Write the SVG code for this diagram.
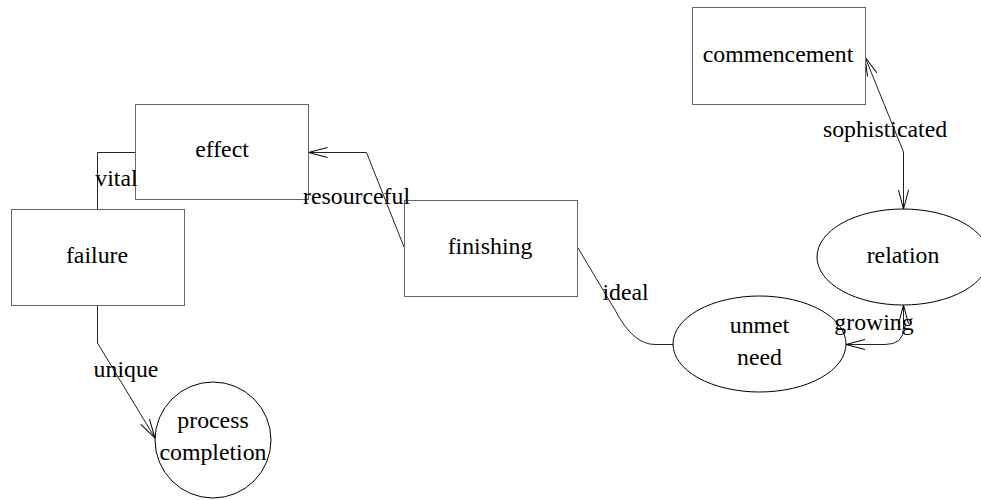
<svg xmlns="http://www.w3.org/2000/svg" width="981" height="500" viewBox="0 0 981 500">
<defs>
<style>
.node rect { fill: #fff; stroke: #666; stroke-width: 1; }
.node ellipse, .node circle { fill: #fff; stroke: #000; stroke-width: 1; }
.edges path { fill: none; stroke: #222; stroke-width: 1; }
text { font-family: 'Liberation Serif', 'DejaVu Serif', serif; font-size: 23.8px; fill: #000; }
.c { text-anchor: middle; }
</style>
<marker id="arr" markerUnits="userSpaceOnUse" markerWidth="22" markerHeight="14" refX="19" refY="6" orient="auto-start-reverse" overflow="visible">
<path d="M0,1 L19,6 L0,11" fill="none" stroke="#000" stroke-width="1"/>
</marker>
</defs>
<rect width="981" height="500" fill="#fff"/>
<g class="edges" id="connectors">
<path id="e-vital" d="M97.5,209 V152.5 H135"/>
<path id="e-resourceful" d="M404,247 L366.5,152.5 H308.5" marker-end="url(#arr)"/>
<path id="e-unique" d="M97.5,305 V343 L155,438" marker-end="url(#arr)"/>
<path id="e-ideal" d="M578,248 L615,310 Q633,344.5 655,344.5 H673"/>
<path id="e-growing" d="M903.5,305 V328 Q903.5,344.5 885,344.5 H846" marker-start="url(#arr)" marker-end="url(#arr)"/>
<path id="e-sophisticated" d="M865,57 L903.5,152 V209" marker-start="url(#arr)" marker-end="url(#arr)"/>
</g>
<g class="node" id="n-effect">
<rect x="135.5" y="104.5" width="173" height="95"/>
<text class="c" x="222" y="157" font-family="Liberation Serif, serif">effect</text>
</g>
<g class="node" id="n-failure">
<rect x="11.5" y="209.5" width="173" height="96"/>
<text class="c" x="97" y="263">failure</text>
</g>
<g class="node" id="n-finishing">
<rect x="404.5" y="200.5" width="173" height="96"/>
<text class="c" x="490" y="254">finishing</text>
</g>
<g class="node" id="n-commencement">
<rect x="692.5" y="7.5" width="173" height="97"/>
<text class="c" x="778" y="62">commencement</text>
</g>
<g class="node" id="n-process-completion">
<circle cx="213" cy="440" r="58"/>
<text class="c" x="213" y="428">process</text>
<text class="c" x="213" y="460">completion</text>
</g>
<g class="node" id="n-unmet-need">
<ellipse cx="759.5" cy="344" rx="86.5" ry="48"/>
<text class="c" x="759.5" y="333">unmet</text>
<text class="c" x="759.5" y="365">need</text>
</g>
<g class="node" id="n-relation">
<ellipse cx="903" cy="257" rx="86" ry="48"/>
<text class="c" x="903" y="263">relation</text>
</g>
<g id="labels">
<text class="c" x="116.5" y="186">vital</text>
<text class="c" x="356.5" y="204">resourceful</text>
<text class="c" x="126" y="377">unique</text>
<text class="c" x="625.5" y="300">ideal</text>
<text class="c" x="874" y="330">growing</text>
<text class="c" x="885" y="137">sophisticated</text>
</g>
</svg>
